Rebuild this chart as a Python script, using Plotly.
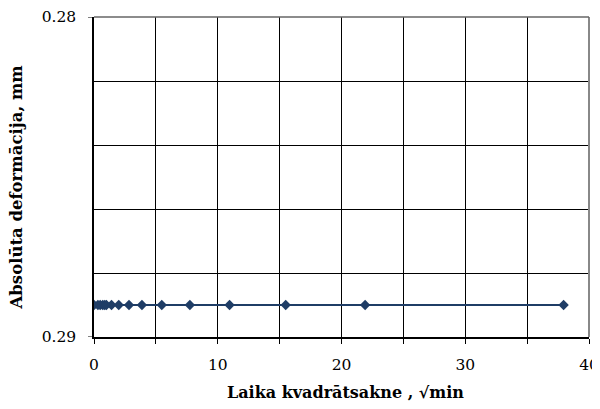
import plotly.graph_objects as go

time_sqrt_min = [0, 0.316, 0.5, 0.707, 0.866, 1.0, 1.414, 2.0, 2.828, 3.873, 5.477, 7.746, 10.954, 15.492, 21.909, 37.947]
deformation_mm = [0.289] * len(time_sqrt_min)

x_tickvals = [0, 10, 20, 30, 40]
y_gridvals = [0.28, 0.282, 0.284, 0.286, 0.288, 0.29]
y_ticktext = ["0.28", "", "", "", "", "0.29"]
y_labelled = [0.28, 0.29]

font_family = "DejaVu Serif, Liberation Serif, serif"
navy = "#1f3d66"

W, H = 592, 401
ML, MR, MT, MB = 86, 11, 9, 72
pw, ph = W - ML - MR, H - MT - MB

fig = go.Figure()
fig.add_trace(go.Scatter(
    x=time_sqrt_min, y=deformation_mm, mode="lines+markers",
    line=dict(color=navy, width=2),
    marker=dict(symbol="diamond", size=8, color=navy),
    showlegend=False,
))

fig.update_layout(
    width=W, height=H,
    margin=dict(l=ML, r=MR, t=MT, b=MB),
    paper_bgcolor="white", plot_bgcolor="white",
    font=dict(family=font_family, size=15, color="black"),
    xaxis=dict(
        range=[0, 40], tickvals=x_tickvals, automargin=False,
        ticks="outside", ticklen=5, tickcolor="black", tickwidth=1,
        ticklabelstandoff=8,
        showgrid=True, gridcolor="black", gridwidth=1,
        minor=dict(dtick=5, showgrid=True, gridcolor="black", gridwidth=1,
                   ticks="outside", ticklen=5, tickcolor="black"),
        showline=True, linecolor="black", linewidth=1.5,
        zeroline=False,
        tickfont=dict(size=15.5),
    ),
    yaxis=dict(
        range=[0.29, 0.28], tickvals=y_gridvals, ticktext=y_ticktext, automargin=False,
        ticks="", ticklabelstandoff=13,
        showgrid=True, gridcolor="black", gridwidth=1,
        showline=True, linecolor="black", linewidth=1.5,
        zeroline=False,
        tickfont=dict(size=15.5),
    ),
)
for v in y_labelled:
    fig.add_shape(type="line", xref="paper", yref="y", x0=-6 / pw, x1=0, y0=v, y1=v,
                  line=dict(color="black", width=1))
fig.add_shape(type="line", xref="paper", yref="paper", x0=1, x1=1, y0=0, y1=1,
              line=dict(color="#888888", width=2))
fig.add_shape(type="line", xref="paper", yref="paper", x0=0, x1=1, y0=1, y1=1,
              line=dict(color="#666666", width=1.5))

fig.add_annotation(text="<b>Laika kvadrātsakne , √min</b>", xref="paper", yref="paper",
                   x=(337 - ML) / pw, y=(ph + MT - 384) / ph, xanchor="center", yanchor="middle",
                   showarrow=False, font=dict(size=16))
fig.add_annotation(text="<b>Absolūta deformācija, mm</b>", xref="paper", yref="paper",
                   x=(8 - ML) / pw, y=(ph + MT - 179.5) / ph, xanchor="center", yanchor="middle",
                   textangle=-90, showarrow=False, font=dict(size=16.5))

fig.write_html("out.html")
